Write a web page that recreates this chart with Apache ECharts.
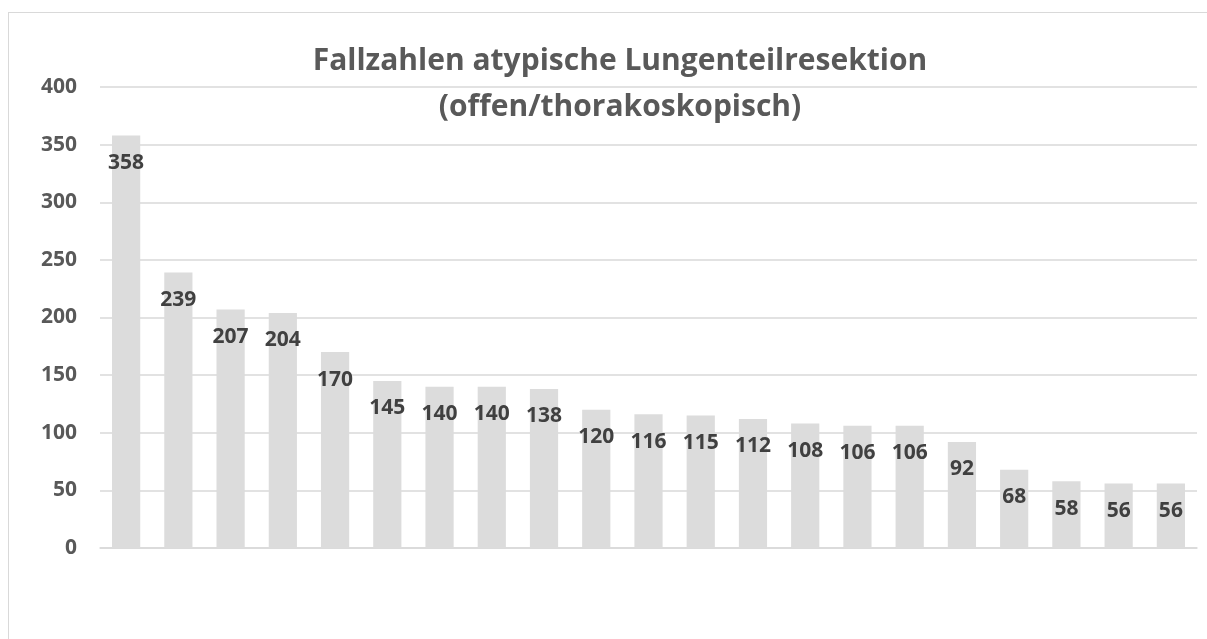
<!DOCTYPE html>
<html>
<head>
<meta charset="utf-8">
<script src="https://cdn.jsdelivr.net/npm/echarts@6/dist/echarts.min.js"></script>
<style>
  html, body { margin: 0; padding: 0; background: #fff; overflow: hidden; }
  .frame {
    position: absolute;
    left: 8px;
    top: 12px;
    width: 1210px;
    height: 640px;
    border: 1px solid #d9d9d9;
  }
  #chart {
    position: absolute;
    left: 0;
    top: 0;
    width: 1207px;
    height: 639px;
  }
</style>
</head>
<body>
<div class="frame"></div>
<div id="chart"></div>
<script>
// Fallzahlen je Klinik (ohne Beschriftung der Kategorien)
const categories = ['1', '2', '3', '4', '5', '6', '7', '8', '9', '10', '11',
  '12', '13', '14', '15', '16', '17', '18', '19', '20', '21']
const caseCounts = [358, 239, 207, 204, 170, 145, 140, 140, 138, 120, 116,
  115, 112, 108, 106, 106, 92, 68, 58, 56, 56]
const titleText = 'Fallzahlen atypische Lungenteilresektion\n(offen/thorakoskopisch)'

const fontStack = '"Open Sans", "DejaVu Sans", sans-serif'

const chart = echarts.init(document.getElementById('chart'))

const option = {
  animation: false,
  textStyle: {
    fontFamily: fontStack
  },
  title: {
    text: titleText,
    left: 615,
    top: 33,
    textAlign: 'center',
    textStyle: {
      fontSize: 30,
      fontWeight: 'bold',
      color: '#595959',
      lineHeight: 46,
      fontFamily: fontStack
    }
  },
  grid: {
    left: 100,
    right: 10,
    top: 87,
    bottom: 91
  },
  xAxis: {
    type: 'category',
    data: categories,
    axisLine: { lineStyle: { color: '#d9d9d9', width: 1.5 } },
    axisTick: { show: false },
    axisLabel: { show: false }
  },
  yAxis: {
    type: 'value',
    min: 0,
    max: 400,
    interval: 50,
    axisLine: { show: false },
    axisTick: { show: false },
    splitLine: { lineStyle: { color: '#d9d9d9', width: 1.5 } },
    axisLabel: {
      margin: 23,
      fontSize: 21,
      fontWeight: 'bold',
      color: '#595959',
      fontFamily: fontStack
    }
  },
  series: [
    {
      type: 'bar',
      data: caseCounts,
      barCategoryGap: '46%',
      itemStyle: { color: '#dcdcdc' },
      label: {
        show: true,
        position: 'insideTop',
        distance: 17,
        fontSize: 21,
        fontWeight: 'bold',
        color: '#404040',
        fontFamily: fontStack
      }
    }
  ]
}

chart.setOption(option)
</script>
</body>
</html>
